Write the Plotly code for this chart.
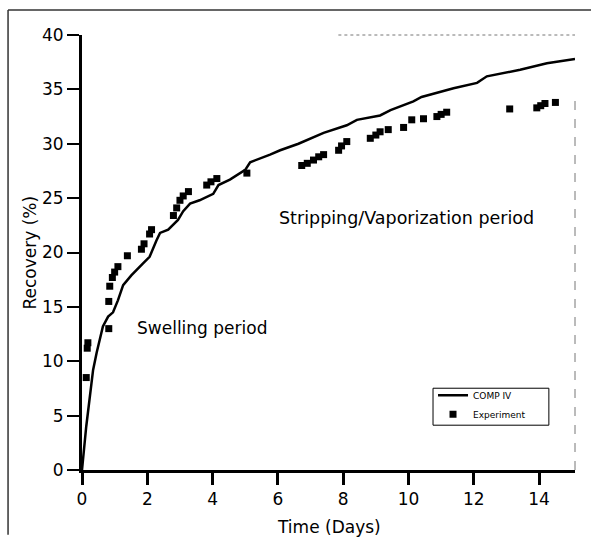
import plotly.graph_objects as go

# COMP IV simulated recovery curve
sim_days = [0, 0.13, 0.34, 0.45, 0.64, 0.8, 0.95, 1.05, 1.1, 1.26, 1.51, 1.87, 2.07, 2.28, 2.39,
            2.64, 2.94, 3.1, 3.31, 3.6, 4.02, 4.18, 4.53, 5.0, 5.15, 5.76, 6.07, 6.63, 7.09, 7.4,
            8.11, 8.42, 9.13, 9.45, 10.15, 10.4, 11.38, 12.1, 12.4, 13.42, 14.24, 15.1]
sim_rec = [0, 4.0, 9.2, 10.8, 13.2, 14.1, 14.5, 15.2, 15.6, 17.0, 17.9, 19.0, 19.6, 21.1, 21.8,
           22.1, 23.0, 23.8, 24.5, 24.8, 25.4, 26.2, 26.7, 27.6, 28.3, 29.0, 29.4, 30.0, 30.6, 31.0,
           31.7, 32.2, 32.6, 33.1, 33.9, 34.3, 35.1, 35.6, 36.2, 36.8, 37.4, 37.8]

# Experimental recovery points
exp_days = [0.13, 0.16, 0.18, 0.82, 0.82, 0.85, 0.93, 1.0, 1.1, 1.39, 1.82, 1.9, 2.07, 2.13,
            2.8, 2.9, 3.0, 3.1, 3.26, 3.82, 3.95, 4.13, 5.05, 6.73, 6.9, 7.09, 7.25, 7.4, 7.86,
            7.95, 8.11, 8.83, 9.0, 9.13, 9.38, 9.85, 10.1, 10.46, 10.87, 11.0, 11.17, 13.1,
            13.93, 14.05, 14.18, 14.5]
exp_rec = [8.5, 11.2, 11.7, 13.0, 15.5, 16.9, 17.7, 18.2, 18.7, 19.7, 20.3, 20.8, 21.7, 22.1,
           23.4, 24.1, 24.8, 25.2, 25.6, 26.2, 26.5, 26.8, 27.3, 28.0, 28.2, 28.5, 28.8, 29.0, 29.4,
           29.8, 30.2, 30.5, 30.8, 31.1, 31.3, 31.5, 32.2, 32.3, 32.5, 32.7, 32.9, 33.2,
           33.3, 33.5, 33.7, 33.8]

x_ticks = [0, 2, 4, 6, 8, 10, 12, 14]
y_ticks = [0, 5, 10, 15, 20, 25, 30, 35, 40]

FONT = "DejaVu Sans"

fig = go.Figure()
fig.add_trace(go.Scatter(x=sim_days, y=sim_rec, mode="lines", name="COMP IV",
                         line=dict(color="black", width=2.5)))
fig.add_trace(go.Scatter(x=exp_days, y=exp_rec, mode="markers", name="Experiment",
                         marker=dict(symbol="square", size=7, color="black")))

fig.update_layout(
    width=591, height=541, autosize=False,
    margin=dict(l=82, r=16, t=35, b=71),
    paper_bgcolor="white", plot_bgcolor="white",
    font=dict(family=FONT, color="black", size=16),
    showlegend=True,
    legend=dict(x=0.712, y=0.205, xanchor="left", yanchor="top",
                borderwidth=0, bgcolor="rgba(0,0,0,0)",
                font=dict(size=9, family=FONT), itemwidth=30,
                tracegroupgap=0),
    xaxis=dict(range=[0, 15.1], tickvals=x_ticks, ticktext=[str(v) for v in x_ticks],
               showline=True, linewidth=3, linecolor="black", ticks="outside",
               ticklen=12, tickwidth=3, tickcolor="black", showgrid=False, zeroline=False,
               tickfont=dict(size=17)),
    yaxis=dict(range=[0, 40], tickvals=y_ticks, ticktext=[str(v) for v in y_ticks],
               showline=True, linewidth=3, linecolor="black", ticks="outside",
               ticklen=12, tickwidth=2, tickcolor="black", showgrid=False, zeroline=False,
               tickfont=dict(size=17)),
    annotations=[
        dict(text="Stripping/Vaporization period", x=5.97, y=23.2, xref="x", yref="y",
             xanchor="left", yanchor="middle", showarrow=False, font=dict(size=17.5)),
        dict(text="Swelling period", x=1.62, y=13.1, xref="x", yref="y",
             xanchor="left", yanchor="middle", showarrow=False, font=dict(size=17)),
        dict(text="Recovery (%)", x=-0.1055, y=0.5, xref="paper", yref="paper",
             textangle=-90, xanchor="center", yanchor="middle", showarrow=False,
             font=dict(size=17)),
        dict(text="Time (Days)", x=0.5, y=-0.131, xref="paper", yref="paper",
             xanchor="center", yanchor="middle", showarrow=False, font=dict(size=17)),
    ],
    shapes=[
        # outer scanned frame (top and left)
        dict(type="line", xref="paper", yref="paper", x0=-0.150, x1=1.0325, y0=1.0575, y1=1.0575,
             line=dict(color="#333333", width=1.5)),
        dict(type="line", xref="paper", yref="paper", x0=-0.150, x1=-0.150, y0=1.0575, y1=-0.149,
             line=dict(color="#333333", width=1.5)),
        # faint plot box top and right
        dict(type="line", xref="paper", yref="paper", x0=0.52, x1=1.0, y0=1.0, y1=1.0,
             line=dict(color="#777777", width=1, dash="dot")),
        dict(type="line", xref="paper", yref="paper", x0=1.0, x1=1.0, y0=0.0, y1=0.86,
             line=dict(color="#777777", width=1, dash="dash")),
        # legend frame
        dict(type="rect", xref="paper", yref="paper", x0=0.712, x1=0.947, y0=0.103, y1=0.188,
             line=dict(color="black", width=1)),
    ],
)

fig.write_html("out.html")
